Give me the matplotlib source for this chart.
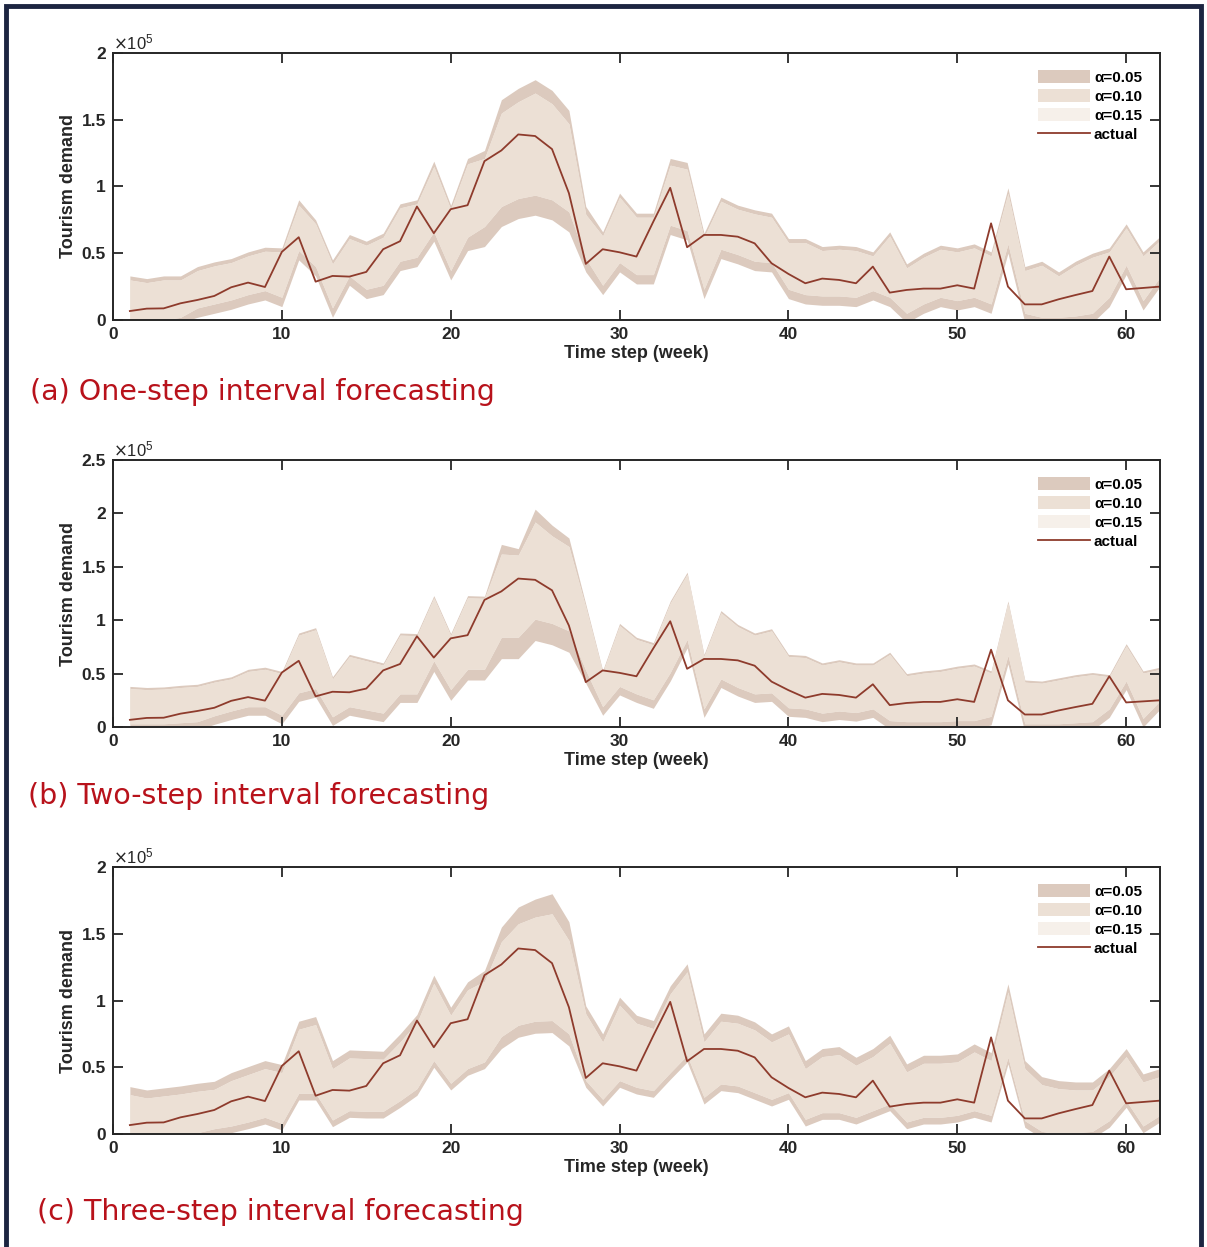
import numpy as np
import matplotlib.pyplot as plt
from matplotlib.patches import Rectangle, Patch
from matplotlib.lines import Line2D
from matplotlib.ticker import FuncFormatter

plt.rcParams['font.family'] = ['Liberation Sans', 'DejaVu Sans']

weeks = list(range(1, 63))

# actual tourism demand (x 1e5)
actual = [0.067, 0.085, 0.087, 0.125, 0.15, 0.18, 0.245, 0.28, 0.247, 0.51,
          0.62, 0.287, 0.33, 0.325, 0.36, 0.53, 0.59, 0.85, 0.65, 0.83,
          0.86, 1.19, 1.27, 1.39, 1.378, 1.28, 0.95, 0.42, 0.53, 0.507,
          0.475, 0.737, 0.99, 0.545, 0.637, 0.637, 0.624, 0.574, 0.425, 0.345,
          0.275, 0.31, 0.30, 0.275, 0.40, 0.205, 0.225, 0.235, 0.235, 0.26,
          0.235, 0.724, 0.25, 0.117, 0.117, 0.155, 0.187, 0.217, 0.475, 0.23,
          0.24, 0.25]

# (a) one-step
a_hi05 = [0.33, 0.31, 0.33, 0.33, 0.40, 0.435, 0.46, 0.51, 0.545, 0.54,
          0.90, 0.75, 0.45, 0.64, 0.59, 0.65, 0.87, 0.90, 1.19, 0.86,
          1.21, 1.27, 1.65, 1.735, 1.80, 1.72, 1.57, 0.85, 0.66, 0.95,
          0.80, 0.80, 1.21, 1.18, 0.65, 0.92, 0.86, 0.825, 0.80, 0.61,
          0.61, 0.55, 0.56, 0.55, 0.51, 0.66, 0.42, 0.50, 0.56, 0.54,
          0.57, 0.51, 0.99, 0.40, 0.44, 0.36, 0.44, 0.50, 0.54, 0.72,
          0.51, 0.625]
a_hi10 = [0.30, 0.28, 0.30, 0.30, 0.37, 0.405, 0.43, 0.48, 0.515, 0.51,
          0.86, 0.72, 0.42, 0.61, 0.56, 0.62, 0.84, 0.87, 1.15, 0.83,
          1.17, 1.21, 1.55, 1.635, 1.70, 1.62, 1.47, 0.79, 0.63, 0.92,
          0.77, 0.77, 1.16, 1.13, 0.62, 0.89, 0.83, 0.795, 0.77, 0.58,
          0.58, 0.52, 0.53, 0.52, 0.48, 0.63, 0.39, 0.47, 0.53, 0.51,
          0.54, 0.48, 0.95, 0.37, 0.41, 0.33, 0.41, 0.47, 0.51, 0.69,
          0.48, 0.595]
a_lo10 = [-0.01, -0.01, 0.0, 0.02, 0.09, 0.12, 0.15, 0.19, 0.22, 0.17,
          0.52, 0.40, 0.09, 0.33, 0.23, 0.26, 0.44, 0.47, 0.66, 0.37,
          0.62, 0.70, 0.85, 0.91, 0.935, 0.90, 0.81, 0.46, 0.26, 0.43,
          0.34, 0.34, 0.71, 0.67, 0.23, 0.53, 0.49, 0.44, 0.43, 0.23,
          0.19, 0.18, 0.18, 0.17, 0.22, 0.17, 0.05, 0.12, 0.17, 0.145,
          0.17, 0.12, 0.57, 0.05, 0.02, 0.02, 0.03, 0.05, 0.17, 0.41,
          0.145, 0.32]
a_lo05 = [-0.06, -0.06, -0.04, -0.02, 0.02, 0.05, 0.08, 0.12, 0.15, 0.10,
          0.45, 0.33, 0.02, 0.26, 0.16, 0.19, 0.37, 0.40, 0.59, 0.30,
          0.52, 0.55, 0.70, 0.76, 0.785, 0.75, 0.66, 0.36, 0.19, 0.36,
          0.27, 0.27, 0.64, 0.60, 0.16, 0.46, 0.42, 0.37, 0.36, 0.16,
          0.12, 0.11, 0.11, 0.10, 0.15, 0.10, -0.02, 0.05, 0.10, 0.075,
          0.10, 0.05, 0.50, -0.02, -0.05, -0.05, -0.04, -0.02, 0.10, 0.34,
          0.075, 0.25]

# (b) two-step
b_hi05 = [0.38, 0.37, 0.375, 0.39, 0.40, 0.44, 0.47, 0.54, 0.56, 0.52,
          0.88, 0.93, 0.47, 0.68, 0.64, 0.60, 0.88, 0.875, 1.23, 0.875,
          1.23, 1.225, 1.71, 1.67, 2.04, 1.89, 1.77, 1.15, 0.53, 0.97,
          0.84, 0.79, 1.18, 1.45, 0.68, 1.09, 0.96, 0.88, 0.92, 0.68,
          0.67, 0.60, 0.63, 0.60, 0.60, 0.70, 0.50, 0.525, 0.54, 0.57,
          0.59, 0.525, 1.18, 0.44, 0.43, 0.46, 0.49, 0.51, 0.49, 0.78,
          0.525, 0.56]
b_hi10 = [0.36, 0.35, 0.355, 0.37, 0.38, 0.42, 0.45, 0.52, 0.54, 0.50,
          0.86, 0.91, 0.45, 0.66, 0.62, 0.58, 0.86, 0.855, 1.21, 0.855,
          1.21, 1.205, 1.62, 1.61, 1.92, 1.79, 1.69, 1.12, 0.51, 0.95,
          0.82, 0.77, 1.16, 1.43, 0.66, 1.07, 0.94, 0.86, 0.90, 0.66,
          0.65, 0.58, 0.61, 0.58, 0.58, 0.68, 0.48, 0.505, 0.52, 0.55,
          0.57, 0.505, 1.16, 0.42, 0.41, 0.44, 0.47, 0.49, 0.47, 0.76,
          0.505, 0.54]
b_lo10 = [0.03, 0.03, 0.03, 0.04, 0.05, 0.105, 0.15, 0.19, 0.19, 0.11,
          0.32, 0.36, 0.095, 0.19, 0.16, 0.13, 0.31, 0.31, 0.62, 0.35,
          0.54, 0.54, 0.84, 0.84, 1.01, 0.97, 0.90, 0.53, 0.19, 0.38,
          0.31, 0.255, 0.51, 0.82, 0.17, 0.45, 0.37, 0.31, 0.32, 0.18,
          0.17, 0.13, 0.15, 0.135, 0.17, 0.06, 0.05, 0.05, 0.05, 0.06,
          0.06, 0.10, 0.67, 0.03, 0.03, 0.03, 0.04, 0.05, 0.17, 0.43,
          0.08, 0.245]
b_lo05 = [-0.05, -0.05, -0.05, -0.04, -0.03, 0.025, 0.07, 0.11, 0.11, 0.03,
          0.24, 0.28, 0.015, 0.11, 0.08, 0.05, 0.23, 0.23, 0.52, 0.25,
          0.44, 0.44, 0.64, 0.64, 0.81, 0.77, 0.70, 0.41, 0.11, 0.30,
          0.23, 0.175, 0.43, 0.74, 0.09, 0.37, 0.29, 0.23, 0.24, 0.10,
          0.09, 0.05, 0.07, 0.055, 0.09, -0.02, -0.03, -0.03, -0.03, -0.02,
          -0.02, 0.02, 0.59, -0.05, -0.05, -0.05, -0.04, -0.03, 0.09, 0.35,
          0.0, 0.165]

# (c) three-step
c_hi05 = [0.355, 0.33, 0.345, 0.36, 0.38, 0.395, 0.46, 0.505, 0.55, 0.52,
          0.845, 0.88, 0.55, 0.63, 0.625, 0.62, 0.75, 0.895, 1.19, 0.95,
          1.14, 1.225, 1.55, 1.70, 1.76, 1.80, 1.59, 0.96, 0.75, 1.025,
          0.89, 0.85, 1.11, 1.275, 0.75, 0.905, 0.89, 0.84, 0.75, 0.81,
          0.55, 0.64, 0.655, 0.575, 0.64, 0.74, 0.525, 0.59, 0.59, 0.60,
          0.675, 0.61, 1.125, 0.55, 0.43, 0.40, 0.39, 0.39, 0.49, 0.64,
          0.45, 0.49]
c_hi10 = [0.295, 0.27, 0.285, 0.30, 0.32, 0.335, 0.40, 0.445, 0.49, 0.46,
          0.785, 0.82, 0.49, 0.57, 0.565, 0.56, 0.69, 0.835, 1.13, 0.89,
          1.08, 1.145, 1.44, 1.575, 1.625, 1.65, 1.45, 0.90, 0.69, 0.965,
          0.83, 0.79, 1.05, 1.215, 0.69, 0.845, 0.83, 0.78, 0.69, 0.75,
          0.49, 0.58, 0.595, 0.515, 0.58, 0.68, 0.465, 0.53, 0.53, 0.54,
          0.615, 0.55, 1.065, 0.49, 0.37, 0.34, 0.33, 0.33, 0.43, 0.58,
          0.39, 0.43]
c_lo10 = [-0.01, -0.01, 0.0, 0.0, 0.01, 0.04, 0.06, 0.09, 0.125, 0.08,
          0.305, 0.305, 0.105, 0.175, 0.17, 0.17, 0.25, 0.34, 0.55, 0.38,
          0.49, 0.54, 0.73, 0.815, 0.845, 0.85, 0.75, 0.40, 0.26, 0.40,
          0.35, 0.325, 0.46, 0.59, 0.275, 0.375, 0.36, 0.31, 0.26, 0.31,
          0.11, 0.16, 0.16, 0.125, 0.175, 0.225, 0.09, 0.125, 0.125, 0.14,
          0.175, 0.14, 0.575, 0.10, 0.02, 0.0, 0.01, 0.02, 0.10, 0.25,
          0.06, 0.14]
c_lo05 = [-0.06, -0.06, -0.05, -0.05, -0.04, -0.01, 0.01, 0.04, 0.075, 0.03,
          0.255, 0.255, 0.055, 0.125, 0.12, 0.12, 0.20, 0.29, 0.50, 0.33,
          0.44, 0.49, 0.64, 0.725, 0.755, 0.76, 0.66, 0.35, 0.21, 0.35,
          0.30, 0.275, 0.41, 0.54, 0.225, 0.325, 0.31, 0.26, 0.21, 0.26,
          0.06, 0.11, 0.11, 0.075, 0.125, 0.175, 0.04, 0.075, 0.075, 0.09,
          0.125, 0.09, 0.525, 0.05, -0.03, -0.05, -0.04, -0.03, 0.05, 0.20,
          0.01, 0.09]

panels = [
    (a_hi05, a_hi10, a_lo10, a_lo05, 2.0, "(a) One-step interval forecasting"),
    (b_hi05, b_hi10, b_lo10, b_lo05, 2.5, "(b) Two-step interval forecasting"),
    (c_hi05, c_hi10, c_lo10, c_lo05, 2.0, "(c) Three-step interval forecasting"),
]
axes_pos = [[0.0936, 0.7434, 0.8674, 0.2141],
            [0.0936, 0.4170, 0.8674, 0.2141],
            [0.0936, 0.0906, 0.8674, 0.2141]]
caption_pos = [(0.025, 0.686), (0.023, 0.362), (0.031, 0.028)]

col05 = '#dccabe'
col10 = '#ece0d5'
col15 = '#f6f0ea'
line_col = '#8e3b2c'
W, H = 1207, 1247

fig = plt.figure(figsize=(W / 100, H / 100), dpi=100)

for (hi05, hi10, lo10, lo05, ymax, cap), pos, cpos in zip(panels, axes_pos, caption_pos):
    ax = fig.add_axes(pos)
    ax.fill_between(weeks, lo05, hi05, color=col05, lw=0)
    ax.fill_between(weeks, lo10, hi10, color=col15, lw=0)
    ax.fill_between(weeks, lo10, hi10, color=col10, lw=0)
    ax.plot(weeks, actual, color=line_col, lw=1.3)
    ax.set_xlim(0, 62)
    ax.set_ylim(0, ymax)
    ax.set_xticks([0, 10, 20, 30, 40, 50, 60])
    ax.set_yticks(np.arange(0, ymax + 0.01, 0.5))
    ax.yaxis.set_major_formatter(FuncFormatter(lambda v, p: '%g' % v))
    ax.tick_params(direction='in', length=7, width=1.3, top=True, right=True,
                   labelsize=12.5, colors='#262626', pad=5)
    for lab in ax.get_xticklabels() + ax.get_yticklabels():
        lab.set_fontweight('bold')
        lab.set_color('#262626')
    for s in ax.spines.values():
        s.set_linewidth(1.4)
        s.set_color('#262626')
    ax.set_xlabel('Time step (week)', fontsize=13, fontweight='bold',
                  color='#262626', labelpad=2)
    ax.set_ylabel('Tourism demand', fontsize=13, fontweight='bold',
                  color='#262626', labelpad=3)
    ax.text(0.0, 1.003, r'$\times\mathregular{10^5}$', transform=ax.transAxes,
            ha='left', va='bottom', fontsize=12, color='#262626')
    handles = [Patch(facecolor=col05, edgecolor='none'),
               Patch(facecolor=col10, edgecolor='none'),
               Patch(facecolor=col15, edgecolor='none'),
               Line2D([0], [0], color=line_col, lw=1.3)]
    ax.legend(handles, ['α=0.05', 'α=0.10', 'α=0.15', 'actual'],
              loc='upper right', bbox_to_anchor=(0.993, 0.975), frameon=False,
              prop={'weight': 'bold', 'size': 11}, handlelength=3.4,
              handleheight=0.9, handletextpad=0.25, labelspacing=0.28,
              borderpad=0.2)
    fig.text(cpos[0], cpos[1], cap, fontsize=20.5, color='#b8121b',
             family='DejaVu Sans', ha='left', va='center')

fig.patches.append(Rectangle((6 / W, -0.02), 1 - 12 / W, 1.02 - 6 / H,
                             transform=fig.transFigure, fill=False,
                             edgecolor='#1c2541', lw=3.5))

fig.savefig('out.png', dpi=100)
